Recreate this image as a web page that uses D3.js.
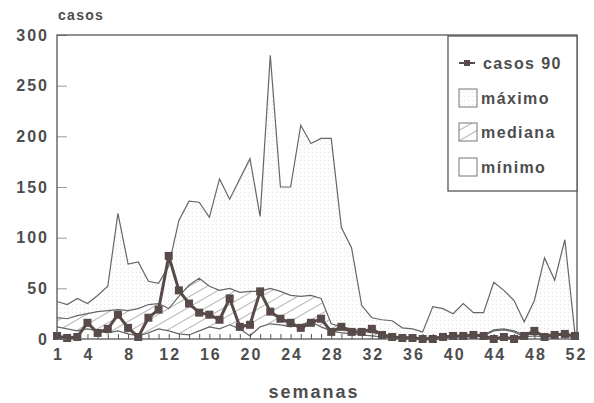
<!DOCTYPE html>
<html lang="es">
<head>
<meta charset="UTF-8">
<title>casos</title>
<script src="https://cdn.jsdelivr.net/npm/d3@7"></script>
<style>
    body { margin: 0; background: #fff; }
    svg text { font-family: "Liberation Sans", Arial, sans-serif; font-weight: bold; fill: #4d4d4d; }
</style>
</head>
<body>
<div id="chart"></div>
<script>
    // semanas epidemiologicas
    const semanas = [1,2,3,4,5,6,7,8,9,10,11,12,13,14,15,16,17,18,19,20,21,22,23,24,25,26,
                     27,28,29,30,31,32,33,34,35,36,37,38,39,40,41,42,43,44,45,46,47,48,49,50,51,52];
    const maximo = [37,34,40,35,43,52,124,74,76,57,55,72,117,136,135,120,158,138,158,178,121,280,150,150,211,193,
                    198,198,110,90,33,21,19,18,11,10,7,32,30,25,35,26,26,56,48,38,17,38,80,58,98,5];
    const mediana = [21,20,23,25,27,28,29,28,30,34,35,30,42,53,60,52,48,50,46,47,47,50,47,43,42,43,
                     40,15,12,10,8,6,5,3,2,2,1,2,2,3,3,4,4,9,10,8,4,5,4,5,5,2];
    const minimo = [12,10,8,10,8,6,8,5,3,6,10,8,5,4,8,12,10,14,10,3,12,15,14,12,14,17,
                    12,8,6,5,4,3,2,1,1,0,0,1,1,2,2,2,3,8,9,7,2,3,2,4,3,1];
    const casos90 = [3,1,2,16,6,10,24,11,2,21,29,82,48,35,26,24,19,40,12,14,47,27,20,16,11,16,
                     20,7,12,7,7,10,4,2,1,1,0,0,2,3,3,4,3,0,2,0,3,8,2,4,5,3];
    const xLabels = [1,4,8,12,16,20,24,28,32,36,40,44,48,52];
    const yTicks = [0,50,100,150,200,250,300];
    const legendItems = ["casos 90", "máximo", "mediana", "mínimo"];

    const W = 594, H = 403;
    const pL = 57, pR = 577, pT = 35, pB = 339;
    const ink = "#555";
    const dark = "#574a48";

    const svg = d3.select("#chart").append("svg").attr("width", W).attr("height", H);

    const x = d3.scaleLinear().domain([1, 52]).range([pL, 575]);
    const y = d3.scaleLinear().domain([0, 300]).range([pB, pT]);

    // patterns
    const defs = svg.append("defs");
    const dots = defs.append("pattern").attr("id", "dots")
        .attr("width", 4).attr("height", 4).attr("patternUnits", "userSpaceOnUse");
    dots.append("rect").attr("width", 4).attr("height", 4).attr("fill", "#fdfdfd");
    dots.append("rect").attr("width", 1).attr("height", 1).attr("fill", "#e2e2e2");
    const hatch = defs.append("pattern").attr("id", "hatch")
        .attr("width", 9).attr("height", 9).attr("patternUnits", "userSpaceOnUse")
        .attr("patternTransform", "rotate(-30)");
    hatch.append("rect").attr("width", 9).attr("height", 9).attr("fill", "#fff");
    hatch.append("line").attr("x1", 0).attr("y1", 0).attr("x2", 9).attr("y2", 0)
        .attr("stroke", "#777").attr("stroke-width", 1.1);

    const area = vals => d3.area().x((d, i) => x(semanas[i])).y0(y(0)).y1(d => y(d))(vals);
    const line = vals => d3.line().x((d, i) => x(semanas[i])).y(d => y(d))(vals);

    const series = [
        { v: maximo, fill: "url(#dots)" },
        { v: mediana, fill: "url(#hatch)" },
        { v: minimo, fill: "#fff" }
    ];
    series.forEach(s => {
        svg.append("path").attr("d", area(s.v)).attr("fill", s.fill);
        svg.append("path").attr("d", line(s.v)).attr("fill", "none")
            .attr("stroke", "#666").attr("stroke-width", 1.2);
    });

    // casos 90
    svg.append("path").attr("d", line(casos90)).attr("fill", "none")
        .attr("stroke", dark).attr("stroke-width", 3).attr("stroke-linejoin", "round");
    svg.selectAll("rect.mk").data(casos90).join("rect").attr("class", "mk")
        .attr("x", (d, i) => x(semanas[i]) - 4).attr("y", d => y(d) - 4)
        .attr("width", 8).attr("height", 8).attr("fill", dark);

    // week ticks on baseline
    const xt = svg.append("g").attr("transform", `translate(0,${pB})`)
        .call(d3.axisBottom(x).tickValues(semanas).tickSize(-5).tickFormat(""));
    xt.select(".domain").remove();
    xt.selectAll("line").attr("stroke", ink);

    const xl = svg.append("g").attr("transform", `translate(0,${pB})`)
        .call(d3.axisBottom(x).tickValues(xLabels).tickSize(0).tickPadding(10));
    xl.select(".domain").remove();
    xl.selectAll("text").attr("font-size", 16).attr("letter-spacing", 2).attr("dx", 1)
        .attr("fill", "#4d4d4d");

    const ya = svg.append("g").attr("transform", `translate(${pL},0)`)
        .call(d3.axisLeft(y).tickValues(yTicks).tickSize(-10).tickPadding(8));
    ya.select(".domain").remove();
    ya.selectAll("line").attr("stroke", "#999");
    ya.selectAll("text").attr("font-size", 16).attr("letter-spacing", 2).attr("fill", "#4d4d4d");

    // frame
    svg.append("rect").attr("x", pL).attr("y", pT).attr("width", pR - pL).attr("height", pB - pT)
        .attr("fill", "none").attr("stroke", ink).attr("stroke-width", 1.3);

    svg.append("text").attr("x", 58).attr("y", 20).attr("font-size", 14).attr("letter-spacing", 1.3)
        .text("casos");
    svg.append("text").attr("x", 314).attr("y", 398).attr("text-anchor", "middle")
        .attr("font-size", 18).attr("letter-spacing", 2).text("semanas");

    // legend
    const lg = svg.append("g");
    lg.append("rect").attr("x", 448).attr("y", 36).attr("width", 129).attr("height", 155)
        .attr("fill", "#fff").attr("stroke", ink).attr("stroke-width", 1.3);
    const rows = [63, 98, 132, 167];
    lg.append("line").attr("x1", 459).attr("x2", 475).attr("y1", rows[0]).attr("y2", rows[0])
        .attr("stroke", dark).attr("stroke-width", 2);
    lg.append("rect").attr("x", 464).attr("y", rows[0] - 3).attr("width", 6).attr("height", 6)
        .attr("fill", dark);
    const boxFills = [null, "url(#dots)", "url(#hatch)", "#fff"];
    [1, 2, 3].forEach(i => {
        lg.append("rect").attr("x", 459).attr("y", rows[i] - 9).attr("width", 18).attr("height", 18)
            .attr("fill", boxFills[i]).attr("stroke", "#777").attr("stroke-width", 1);
    });
    lg.selectAll("text.lg").data(legendItems).join("text").attr("class", "lg")
        .attr("x", (d, i) => i === 0 ? 483 : 481).attr("y", (d, i) => rows[i] + 6)
        .attr("font-size", 16).attr("letter-spacing", 1.4).text(d => d);
</script>
</body>
</html>
